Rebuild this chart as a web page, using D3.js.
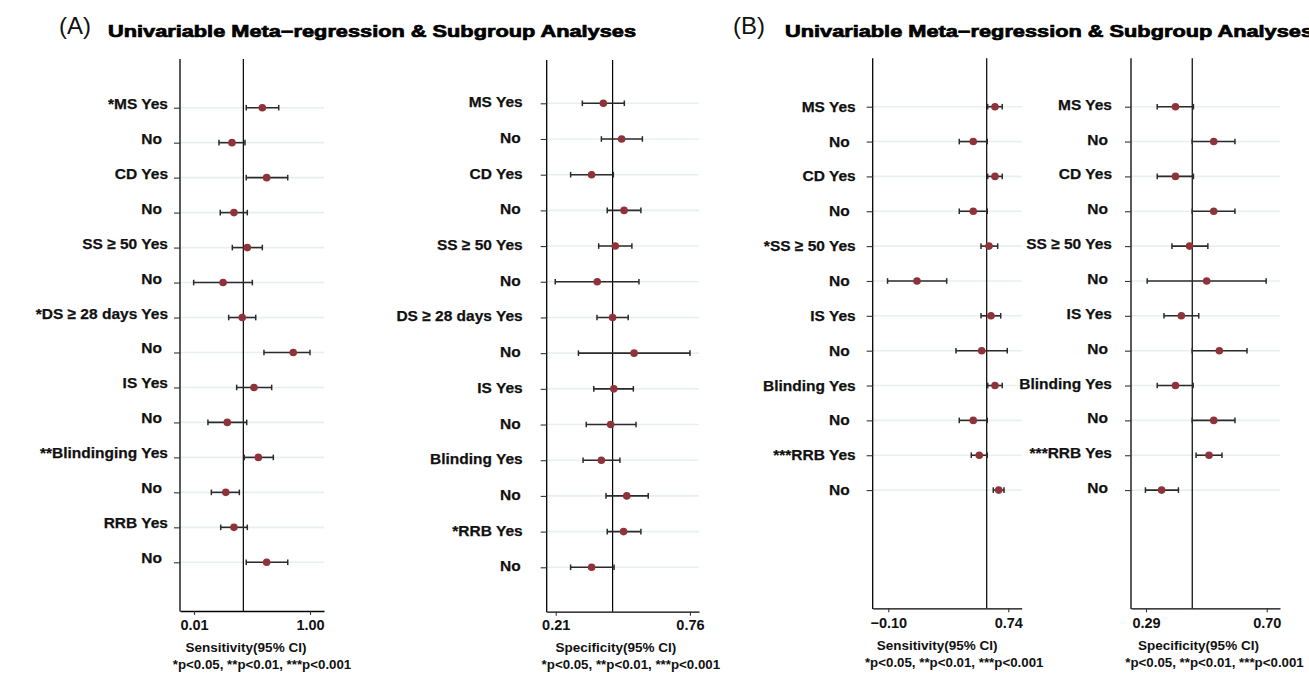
<!DOCTYPE html>
<html><head><meta charset="utf-8">
<script src="https://cdn.jsdelivr.net/npm/d3@7"></script>
<style>
html,body{margin:0;padding:0;background:#fff;}
svg{display:block;font-family:"Liberation Sans",Arial,Helvetica,sans-serif;}
</style></head>
<body>
<svg id="chart" width="1309" height="674"></svg>
<script>
// ---------- DATA ----------
const labelsASens = ["*MS Yes","No","CD Yes","No","SS \u2265 50 Yes","No","*DS \u2265 28 days Yes","No","IS Yes","No","**Blindinging Yes","No","RRB Yes","No"];
const estASens  = [0.593,0.334,0.630,0.351,0.465,0.258,0.422,0.857,0.522,0.294,0.559,0.281,0.351,0.630];
const lowASens  = [0.456,0.223,0.456,0.234,0.337,0.007,0.306,0.607,0.374,0.129,0.439,0.158,0.238,0.456];
const highASens = [0.733,0.445,0.810,0.465,0.593,0.508,0.537,1.000,0.673,0.460,0.687,0.397,0.465,0.810];
const refASens = 0.431;
const ticksASens = [0.01, 1.00];

const labelsASpec = ["MS Yes","No","CD Yes","No","SS \u2265 50 Yes","No","DS \u2265 28 days Yes","No","IS Yes","No","Blinding Yes","No","*RRB Yes","No"];
const estASpec  = [0.405,0.480,0.357,0.490,0.454,0.380,0.443,0.531,0.448,0.435,0.397,0.501,0.488,0.357];
const lowASpec  = [0.319,0.397,0.271,0.421,0.386,0.208,0.379,0.303,0.366,0.335,0.322,0.416,0.421,0.271];
const highASpec = [0.491,0.565,0.446,0.559,0.522,0.551,0.507,0.760,0.528,0.539,0.473,0.589,0.559,0.449];
const refASpec = 0.443;
const ticksASpec = [0.21, 0.76];

const labelsBSens = ["MS Yes","No","CD Yes","No","*SS \u2265 50 Yes","No","IS Yes","No","Blinding Yes","No","***RRB Yes","No"];
const estBSens  = [0.647,0.495,0.647,0.495,0.605,0.101,0.619,0.554,0.647,0.495,0.537,0.673];
const lowBSens  = [0.596,0.397,0.596,0.397,0.549,-0.105,0.549,0.374,0.596,0.397,0.481,0.635];
const highBSens = [0.698,0.593,0.698,0.593,0.666,0.309,0.687,0.733,0.698,0.593,0.593,0.710];
const refBSens = 0.589;
const ticksBSens = [-0.10, 0.74];

const labelsBSpec = ["MS Yes","No","CD Yes","No","SS \u2265 50 Yes","No","IS Yes","No","Blinding Yes","No","***RRB Yes","No"];
const estBSpec  = [0.390,0.520,0.390,0.520,0.438,0.496,0.410,0.539,0.390,0.520,0.504,0.343];
const lowBSpec  = [0.328,0.447,0.328,0.447,0.378,0.294,0.351,0.447,0.328,0.447,0.460,0.288];
const highBSpec = [0.451,0.592,0.451,0.592,0.500,0.698,0.469,0.633,0.450,0.592,0.548,0.400];
const refBSpec = 0.447;
const ticksBSpec = [0.29, 0.70];

const axisTitleSens = "Sensitivity(95% CI)";
const axisTitleSpec = "Specificity(95% CI)";
const pNote = "*p<0.05, **p<0.01, ***p<0.001";
const titleText = "Univariable Meta\u2212regression & Subgroup Analyses";

// ---------- LAYOUT ----------
const panels = [
  {labels:labelsASens, est:estASens, lo:lowASens, hi:highASens, ref:refASens, ticks:ticksASens, title:axisTitleSens,
   x0:180, x1:324, top:59, bottom:611, y1:107.7, y14:562.3, dom:[-0.1095,1.1195], gapYes:6, gapNo:12, dy:1, tickBase:630, tOff:-6, nOff:10},
  {labels:labelsASpec, est:estASpec, lo:lowASpec, hi:highASpec, ref:refASpec, ticks:ticksASpec, title:axisTitleSpec,
   x0:546.7, x1:699, top:60, bottom:611.7, y1:103.3, y14:567.3, dom:[0.173,0.797], gapYes:18, gapNo:20, dy:4, tickBase:630, tOff:-7, nOff:8},
  {labels:labelsBSens, est:estBSens, lo:lowBSens, hi:highBSens, ref:refBSens, ticks:ticksBSens, title:axisTitleSens,
   x0:872.7, x1:1021.7, top:58.3, bottom:608.3, y1:106.7, y14:559.8, dom:[-0.209,0.834], gapYes:11, gapNo:17, dy:5, tickBase:628, tOff:-10, nOff:7},
  {labels:labelsBSpec, est:estBSpec, lo:lowBSpec, hi:highBSpec, ref:refBSpec, ticks:ticksBSpec, title:axisTitleSpec,
   x0:1131, x1:1280, top:58.3, bottom:608.3, y1:106.7, y14:559.8, dom:[0.239,0.745], gapYes:13, gapNo:17, dy:3, tickBase:628, tOff:-7, nOff:9}
];

const svg = d3.select("#chart");

// titles
[{tag:"(A)", tx:59, mx:108},{tag:"(B)", tx:733, mx:785}].forEach(t=>{
  svg.append("text").attr("x",t.tx).attr("y",34).attr("font-size",24).attr("fill","#111").text(t.tag);
  svg.append("text").attr("x",t.mx).attr("y",37).attr("font-size",16.5).attr("font-weight","bold")
    .attr("textLength",528).attr("lengthAdjust","spacingAndGlyphs")
    .attr("fill","#000").attr("stroke","#000").attr("stroke-width",0.7).text(titleText);
});

panels.forEach(p=>{
  const g = svg.append("g");
  const x = d3.scaleLinear().domain(p.dom).range([p.x0,p.x1]);
  const y = d3.scalePoint().domain(d3.range(14)).range([p.y1,p.y14]).padding(0);
  const idx = d3.range(p.labels.length);

  // gridlines
  g.selectAll(".grid").data(idx).join("line")
    .attr("x1",p.x0).attr("x2",p.x1).attr("y1",i=>y(i)).attr("y2",i=>y(i))
    .attr("stroke","#e8eff0").attr("stroke-width",1.6);

  // reference line
  g.append("line").attr("x1",x(p.ref)).attr("x2",x(p.ref)).attr("y1",p.top).attr("y2",p.bottom)
    .attr("stroke","#000").attr("stroke-width",1.2);

  // left frame
  g.append("line").attr("x1",p.x0).attr("x2",p.x0).attr("y1",p.top).attr("y2",p.bottom+0.6)
    .attr("stroke","#000").attr("stroke-width",1.3);

  // y ticks
  const yAxis = d3.axisLeft(y).tickValues(idx).tickSize(6).tickSizeOuter(0).tickFormat("");
  const ya = g.append("g").attr("transform",`translate(${p.x0},0)`).call(yAxis);
  ya.select(".domain").remove();
  ya.selectAll(".tick line").attr("stroke","#333").attr("stroke-width",1.1);

  // row labels
  g.selectAll(".lab").data(idx).join("text")
    .attr("x",i=> p.x0 - 6 - (p.labels[i]==="No" ? p.gapNo : p.gapYes))
    .attr("y",i=> y(i)+p.dy)
    .attr("text-anchor","end").attr("font-size",15.5).attr("font-weight","bold")
    .attr("fill","#111").attr("stroke","#111").attr("stroke-width",0.25)
    .text(i=>p.labels[i]);

  // x axis
  const xAxis = d3.axisBottom(x).tickValues(p.ticks).tickFormat(d3.format(".2f")).tickSize(4).tickSizeOuter(0);
  const xa = g.append("g").attr("transform",`translate(0,${p.bottom})`).call(xAxis);
  xa.select(".domain").attr("stroke","#000").attr("stroke-width",1.3);
  xa.selectAll(".tick line").attr("stroke","#333").attr("stroke-width",1.1);
  xa.selectAll(".tick text").attr("font-family","Liberation Sans, Arial, sans-serif")
    .attr("font-size",14.5).attr("font-weight","bold").attr("fill","#111")
    .attr("dy",null).attr("y", p.tickBase - p.bottom);

  // error bars
  const eb = g.selectAll(".eb").data(idx).join("g");
  eb.append("line").attr("x1",i=>x(p.lo[i])).attr("x2",i=>x(p.hi[i])).attr("y1",i=>y(i)).attr("y2",i=>y(i))
    .attr("stroke","#2b2b2b").attr("stroke-width",1.6);
  eb.append("line").attr("x1",i=>x(p.lo[i])).attr("x2",i=>x(p.lo[i])).attr("y1",i=>y(i)-2.8).attr("y2",i=>y(i)+2.8)
    .attr("stroke","#2b2b2b").attr("stroke-width",1.5);
  eb.append("line").attr("x1",i=>x(p.hi[i])).attr("x2",i=>x(p.hi[i])).attr("y1",i=>y(i)-2.8).attr("y2",i=>y(i)+2.8)
    .attr("stroke","#2b2b2b").attr("stroke-width",1.5);
  eb.append("circle").attr("cx",i=>x(p.est[i])).attr("cy",i=>y(i)).attr("r",3.8).attr("fill","#8e3339");

  // axis title & note
  const cx = (p.x0+p.x1)/2;
  g.append("text").attr("x",cx+p.tOff).attr("y",p.tickBase+22).attr("text-anchor","middle")
    .attr("font-size",13.5).attr("font-weight","bold").attr("fill","#111").text(p.title);
  g.append("text").attr("x",cx+p.nOff).attr("y",p.tickBase+39).attr("text-anchor","middle")
    .attr("font-size",13.3).attr("font-weight","bold").attr("fill","#111").text(pNote);
});
</script>
</body></html>
